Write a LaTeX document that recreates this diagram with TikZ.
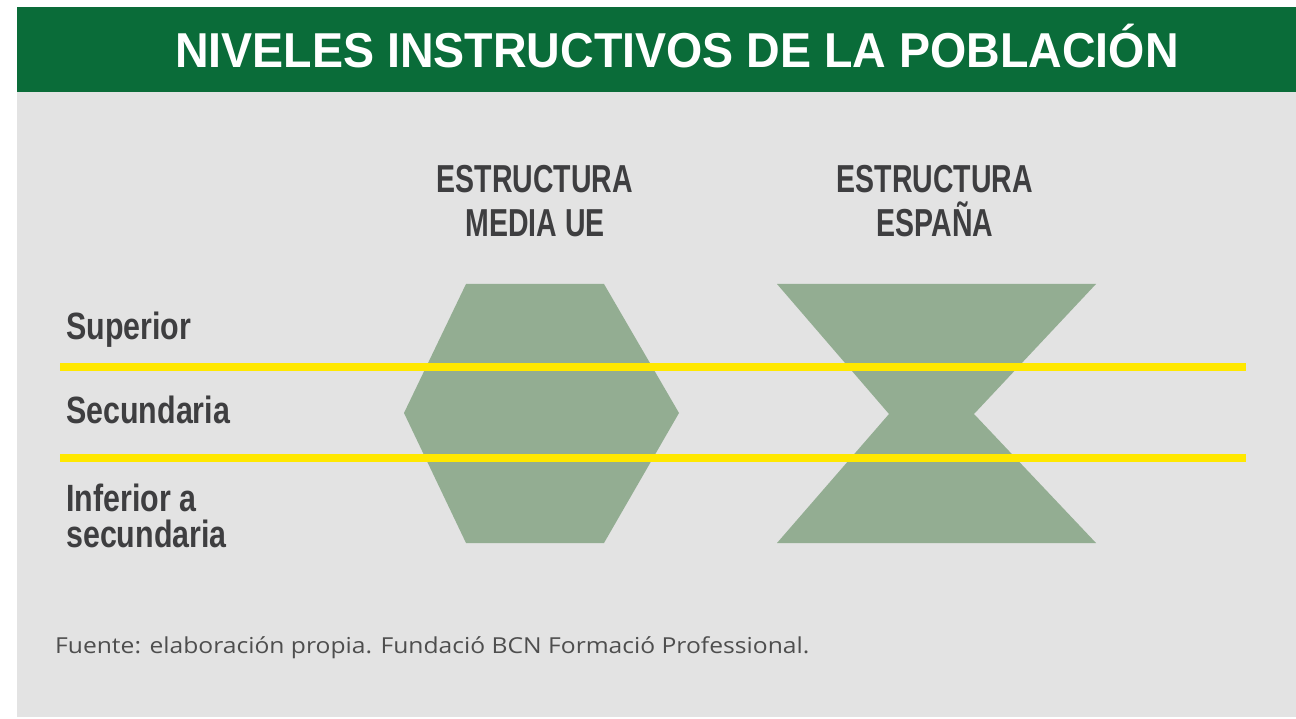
\documentclass[tikz,border=0pt]{standalone}
\usepackage{fontspec}
\setmainfont{Liberation Sans}
\newfontfamily\titlefont[FakeStretch=0.95]{Liberation Sans}
\newfontfamily\headfont[FakeStretch=0.73]{Liberation Sans}
\newfontfamily\labfont[FakeStretch=0.80]{Liberation Sans}
\newfontfamily\notefont[FakeStretch=1.12]{Open Sans}
\definecolor{hdrgreen}{HTML}{0A6C39}
\definecolor{bggrey}{HTML}{E3E3E3}
\definecolor{shapegreen}{HTML}{93AD92}
\definecolor{lineyellow}{HTML}{FFE800}
\definecolor{txtgrey}{HTML}{3E3E40}
\definecolor{notegrey}{HTML}{4E4E4E}
\tikzset{
  shapefill/.style={fill=shapegreen, draw=none},
  levelline/.style={draw=lineyellow, line width=8pt},
  headtxt/.style={text=txtgrey, font=\headfont\bfseries\fontsize{39}{44}\selectfont, align=center, anchor=base, inner sep=0pt},
  labtxt/.style={text=txtgrey, font=\labfont\bfseries\fontsize{38}{36}\selectfont, align=left, anchor=base west, inner sep=0pt},
}
\begin{document}
\begin{tikzpicture}[x=1pt,y=-1pt]
\useasboundingbox (0,0) rectangle (1296,719);
\fill[white] (0,0) rectangle (1296,719);
\fill[bggrey] (17,92) rectangle (1296,717);
\fill[hdrgreen] (17,7) rectangle (1296,92);
\node[text=white, font=\titlefont\bfseries\fontsize{49}{55}\selectfont, anchor=base, inner sep=0pt] (title) at (677,68) {NIVELES INSTRUCTIVOS DE LA POBLACIÓN};
% headings (base = last line)
\node[headtxt] (hUE) at (535,237) {ESTRUCTURA\\MEDIA UE};
\node[headtxt] (hES) at (935,237) {ESTRUCTURA\\ESPAÑA};
% hexagon
\fill[shapefill] (466,284) -- (604,284) -- (679,413) -- (604,543) -- (466,543) -- (404,413) -- cycle;
% hourglass
\fill[shapefill] (777,284) -- (1096,284) -- (974,414) -- (1096,543) -- (777,543) -- (889,414) -- cycle;
% level lines
\coordinate (l1a) at (60,367);
\coordinate (l1b) at (1246,367);
\coordinate (l2a) at (60,458);
\coordinate (l2b) at (1246,458);
\draw[levelline] (l1a) -- (l1b);
\draw[levelline] (l2a) -- (l2b);
% labels
\node[labtxt] (sup) at (66,340) {Superior};
\node[labtxt] (sec) at (66,423) {Secundaria};
\node[labtxt] (inf) at (66,547) {Inferior a\\secundaria};
% source
\node[text=notegrey, font=\notefont\fontsize{22}{24}\selectfont, anchor=base west, inner sep=0pt] (src) at (55,653) {Fuente: elaboración propia. Fundació BCN Formació Professional.};
\end{tikzpicture}
\end{document}
